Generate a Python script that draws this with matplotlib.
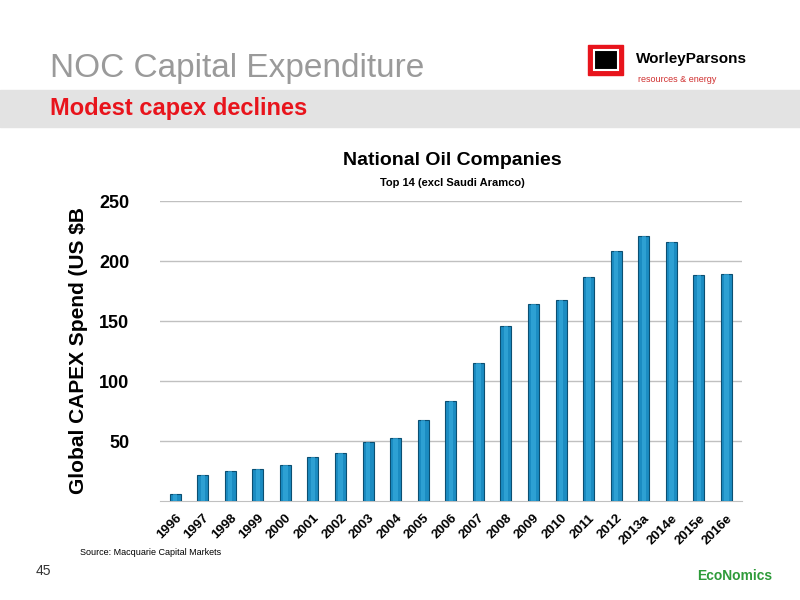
import matplotlib
matplotlib.use("Agg")
import matplotlib.pyplot as plt
from matplotlib.patches import Rectangle

years = ["1996","1997","1998","1999","2000","2001","2002","2003","2004","2005","2006",
         "2007","2008","2009","2010","2011","2012","2013a","2014e","2015e","2016e"]
capex = [6.2,21.4,25,26.4,29.7,37,39.7,49.2,52.5,67.8,83.6,115.3,145.8,164.5,167.6,187,208.3,221.2,215.8,188.3,189.2]
yticks = [50,100,150,200,250]

fig = plt.figure(figsize=(8,6), dpi=100)
fig.patch.set_facecolor("white")

# header
fig.text(0.062, 0.885, "NOC Capital Expenditure", fontsize=24, color="#9a9a9a", family="Liberation Sans", va="center")
fig.add_artist(Rectangle((0, 0.788), 1, 0.062, transform=fig.transFigure, color="#e3e3e3", zorder=0))
fig.text(0.062, 0.82, "Modest capex declines", fontsize=17, color="#e8141c", weight="bold", family="Liberation Sans", va="center")
# logo
fig.add_artist(Rectangle((0.735, 0.875), 0.044, 0.05, transform=fig.transFigure, color="#e8141c"))
fig.add_artist(Rectangle((0.742, 0.883), 0.030, 0.034, transform=fig.transFigure, facecolor="black", edgecolor="white", lw=1.5))
fig.text(0.795, 0.902, "WorleyParsons", fontsize=11, weight="bold", color="black", family="Liberation Sans", va="center")
fig.text(0.797, 0.867, "resources & energy", fontsize=6.5, color="#d03030", family="Liberation Sans", va="center")

ax = fig.add_axes([0.2, 0.165, 0.727, 0.5])
x = list(range(len(years)))
ax.bar(x, capex, width=0.4, color="#1b8cc2", edgecolor="#0b4f72", linewidth=0.8, zorder=3)
ax.bar(x, capex, width=0.16, color="#3aaee0", linewidth=0, zorder=4, alpha=0.6)
ax.set_ylim(0, 250)
ax.set_xlim(-0.55, len(years) - 0.45)
ax.set_yticks(yticks)
ax.set_yticklabels([str(v) for v in yticks], fontsize=13, weight="bold", family="Liberation Sans")
ax.set_xticks(x)
ax.set_xticklabels(years, rotation=45, fontsize=9.5, weight="bold", family="Liberation Sans", ha="right", rotation_mode="anchor")
ax.tick_params(axis="x", pad=8)
ax.grid(axis="y", color="#c0c0c0", lw=1, zorder=0)
for s in ["top","right","left"]:
    ax.spines[s].set_visible(False)
ax.spines["bottom"].set_color("#c0c0c0")
ax.tick_params(length=0, axis="both")
ax.tick_params(axis="y", pad=22)
ax.set_ylabel("Global CAPEX Spend (US $B", fontsize=15, weight="bold", family="Liberation Sans", labelpad=8)

fig.text(0.565, 0.725, "National Oil Companies", fontsize=14, weight="bold", ha="center", family="Liberation Sans")
fig.text(0.565, 0.69, "Top 14 (excl Saudi Aramco)", fontsize=8, weight="bold", ha="center", family="Liberation Sans")

fig.text(0.1, 0.075, "Source: Macquarie Capital Markets", fontsize=6.5, family="Liberation Sans")
fig.text(0.045, 0.042, "45", fontsize=10, color="#333333", family="Liberation Sans")
fig.text(0.872, 0.033, "EcoNomics", fontsize=10, weight="bold", color="#2e9b3a", family="Liberation Sans")

fig.savefig("out.png", dpi=100)
